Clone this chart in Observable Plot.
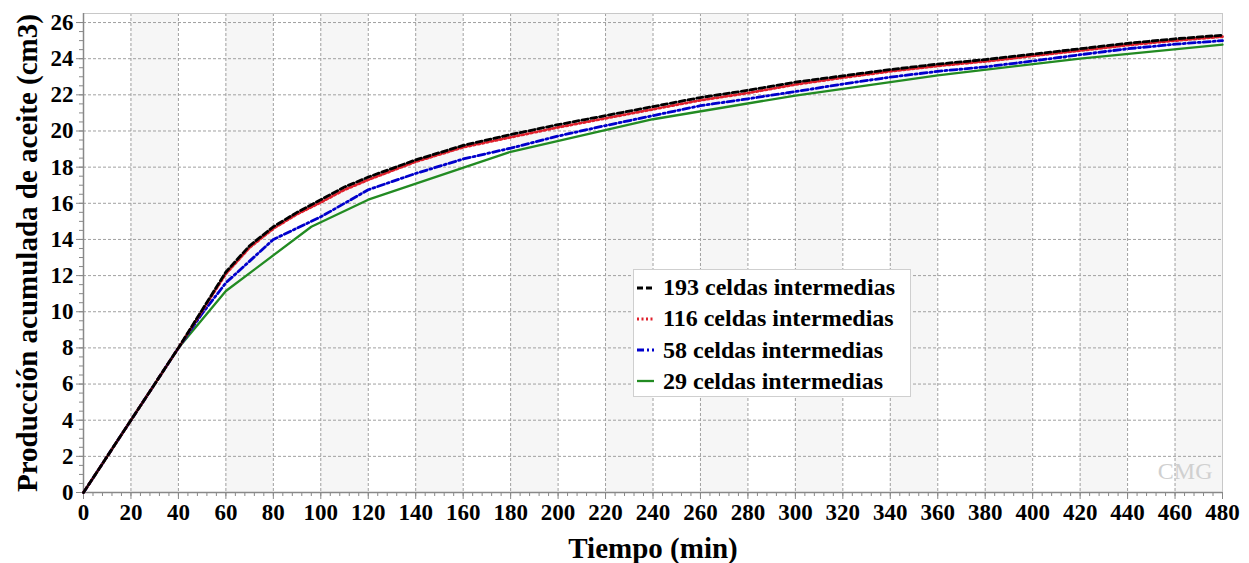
<!DOCTYPE html>
<html><head><meta charset="utf-8">
<script src="https://cdn.jsdelivr.net/npm/d3@7"></script>
<script src="https://cdn.jsdelivr.net/npm/@observablehq/plot@0.6"></script>
<style>
body{margin:0;background:#fff}
#wrap{position:relative;width:1249px;height:563px;overflow:hidden}
#legend{position:absolute;left:633px;top:269px;width:278px;height:128px;background:#fff;border:1px solid #cfcfcf;box-sizing:border-box;font-family:"Liberation Serif",serif;font-weight:bold;font-size:24px;color:#000}
#legend .row{position:absolute;left:0;height:31px;display:flex;align-items:center;white-space:nowrap}
#legend svg{margin-left:3px;margin-right:9px}
</style>
</head><body><div id="wrap"></div>
<script>
const seriesNames = ["193 celdas intermedias", "116 celdas intermedias", "58 celdas intermedias", "29 celdas intermedias"];
const seriesColors = ["#000000", "#e0202c", "#0000cc", "#228b22"];
const seriesDash = ["6,3", "2,2.5", "7,3,2,3", null];
const seriesWidth = [2.8, 2.8, 2.8, 2.3];

const t193 = [0,40,50,60,70,80,90,100,110,120,140,160,180,200,220,240,260,280,300,320,340,360,380,400,420,440,460,480];
const v193 = [0,8,10.1,12.2,13.65,14.7,15.5,16.2,16.9,17.45,18.4,19.2,19.8,20.35,20.85,21.35,21.85,22.25,22.7,23.05,23.4,23.7,23.95,24.25,24.55,24.85,25.1,25.3];
const t116 = [0,40,50,60,70,80,90,100,110,120,140,160,180,200,220,240,260,280,300,320,340,360,380,400,420,440,460,480];
const v116 = [0,8,10.05,12.1,13.55,14.6,15.4,16.05,16.75,17.3,18.3,19.1,19.65,20.2,20.7,21.2,21.7,22.1,22.57,22.95,23.3,23.6,23.85,24.15,24.45,24.75,25.0,25.22];
const t58 = [0,40,50,60,80,100,120,140,160,180,200,220,240,260,280,300,320,340,360,380,400,420,440,460,480];
const v58 = [0,8,9.9,11.6,14.0,15.25,16.75,17.65,18.45,19.05,19.72,20.3,20.85,21.4,21.78,22.18,22.6,22.98,23.3,23.55,23.87,24.22,24.55,24.8,25.0];
const t29 = [0,40,60,96,120,180,240,300,360,420,480];
const v29 = [0,8,11.15,14.7,16.2,18.85,20.65,21.96,23.08,24.0,24.78];

const xTicks = [0,20,40,60,80,100,120,140,160,180,200,220,240,260,280,300,320,340,360,380,400,420,440,460,480];
const yTicks = [0,2,4,6,8,10,12,14,16,18,20,22,24,26];
const stripeStarts = [20,60,100,140,180,220,260,300,340,380,420,460];

const toRows = (ts, vs, name) => ts.map((t, i) => ({t, v: vs[i], name}));
const data = [
  toRows(t193, v193, seriesNames[0]),
  toRows(t116, v116, seriesNames[1]),
  toRows(t58, v58, seriesNames[2]),
  toRows(t29, v29, seriesNames[3])
];
const yMax = 26.5;
const xMinor = d3.range(0, 481, 4);
const yMinor = d3.range(0, 26.01, 0.5);

const lineMark = (i) => Plot.line(data[i], {x: "t", y: "v", stroke: seriesColors[i], strokeWidth: seriesWidth[i], strokeDasharray: seriesDash[i] || undefined, strokeLinejoin: "round"});

const chart = Plot.plot({
  width: 1249, height: 563,
  marginLeft: 83, marginRight: 27, marginTop: 13, marginBottom: 71,
  x: {domain: [0, 480]},
  y: {domain: [0, yMax]},
  style: {fontFamily: "Liberation Serif, serif", fontWeight: "bold", color: "#000", background: "#fff"},
  marks: [
    Plot.rect(stripeStarts, {x1: d => d, x2: d => d + 20, y1: 0, y2: yMax, fill: "#f6f6f6"}),
    Plot.gridX(xTicks, {stroke: "#a0a0a0", strokeOpacity: 1, strokeDasharray: "3,2"}),
    Plot.gridY(yTicks, {stroke: "#a0a0a0", strokeOpacity: 1, strokeDasharray: "3,2"}),
    Plot.frame({stroke: "#c8c8c8"}),
    Plot.text(["CMG"], {frameAnchor: "bottom-right", dx: -10, dy: -14, fill: "#d0d0d0", fontSize: 24, fontWeight: "normal", fontFamily: "Liberation Serif", textAnchor: "end", lineAnchor: "bottom"}),
    Plot.axisX(xMinor, {tickSize: 4, text: null, label: null, stroke: "#888"}),
    Plot.axisY(yMinor, {tickSize: 4, text: null, label: null, stroke: "#888"}),
    Plot.axisX(xTicks, {tickSize: 7, tickPadding: 4, fontSize: 23, label: null, stroke: "#888", color: "#000"}),
    Plot.axisY(yTicks, {tickSize: 7, tickPadding: 3, fontSize: 23, label: null, stroke: "#888", color: "#000"}),
    Plot.ruleX([0], {stroke: "#888", strokeWidth: 1.5}),
    Plot.ruleY([0], {stroke: "#888", strokeWidth: 1.5}),
    lineMark(3), lineMark(2), lineMark(1), lineMark(0),
    Plot.text(["Producción acumulada de aceite (cm3)"], {frameAnchor: "left", dx: -56, rotate: -90, fontSize: 29, textAnchor: "middle", lineAnchor: "middle", fill: "#000"}),
    Plot.text(["Tiempo (min)"], {frameAnchor: "bottom", dy: 56, fontSize: 29, textAnchor: "middle", lineAnchor: "middle", fill: "#000"})
  ]
});
const wrap = document.getElementById("wrap");
wrap.appendChild(chart);

const legend = document.createElement("div");
legend.id = "legend";
seriesNames.forEach((name, i) => {
  const row = document.createElement("div");
  row.className = "row";
  row.style.top = (2 + i * 31.3) + "px";
  const dash = seriesDash[i] ? `stroke-dasharray="${seriesDash[i]}"` : "";
  row.innerHTML = `<svg width="17" height="10"><line x1="0" y1="5" x2="17" y2="5" stroke="${seriesColors[i]}" stroke-width="${seriesWidth[i]}" ${dash}/></svg><span>${name}</span>`;
  legend.appendChild(row);
});
wrap.appendChild(legend);
</script>
</body></html>
